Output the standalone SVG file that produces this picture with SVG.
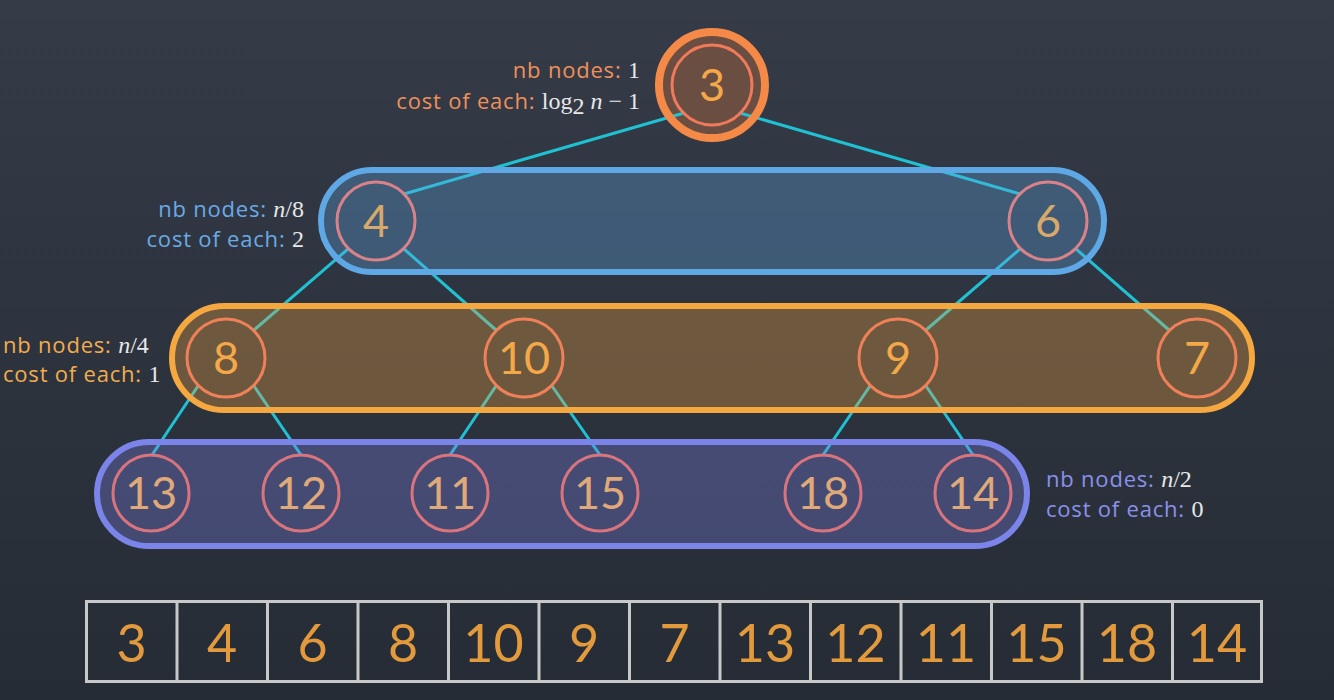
<svg xmlns="http://www.w3.org/2000/svg" width="1334" height="700" viewBox="0 0 1334 700">
<defs>
<linearGradient id="bg" x1="0" y1="0" x2="0" y2="1">
<stop offset="0" stop-color="#353b47"/>
<stop offset="1" stop-color="#262c35"/>
</linearGradient>
<style>
.edge{stroke:#1fc1d3;stroke-width:3;fill:none;stroke-linecap:round}
.band{stroke-width:6;fill-opacity:0.32}
.node{fill:none;stroke-width:3}
.num{font-family:"Lato","Noto Sans",sans-serif;font-weight:400;font-size:45px;text-anchor:middle}
.lbl{font-family:"Open Sans","Noto Sans",sans-serif;font-size:22px;letter-spacing:0.8px}
.math{font-family:"Liberation Serif","DejaVu Serif",serif;fill:#e8e8e8;font-size:24px;letter-spacing:0}
.cell{fill:none;stroke:#c8c8c8;stroke-width:3}
.anum{font-family:"Lato","Noto Sans",sans-serif;font-weight:400;font-size:52px;text-anchor:middle;fill:#e39a3d}
</style>
</defs>
<rect width="1334" height="700" fill="url(#bg)"/>

<g id="root-bg"><circle cx="712" cy="85" r="56" fill="#6b4e42"/></g>

<g id="connectors">
<line class="edge" x1="684" y1="113" x2="404" y2="194"/>
<line class="edge" x1="740" y1="113" x2="1020" y2="194"/>
<line class="edge" x1="348" y1="249" x2="254" y2="330"/>
<line class="edge" x1="404" y1="249" x2="496" y2="330"/>
<line class="edge" x1="1020" y1="249" x2="926" y2="330"/>
<line class="edge" x1="1076" y1="249" x2="1169" y2="330"/>
<line class="edge" x1="198" y1="386" x2="152" y2="455"/>
<line class="edge" x1="254" y1="386" x2="301" y2="455"/>
<line class="edge" x1="496" y1="386" x2="450" y2="455"/>
<line class="edge" x1="552" y1="386" x2="600" y2="455"/>
<line class="edge" x1="870" y1="386" x2="823" y2="455"/>
<line class="edge" x1="926" y1="386" x2="973" y2="455"/>
</g>

<g id="bands">
<rect class="band" x="321" y="170" width="783" height="102" rx="51" fill="#5fa8e6" stroke="#5fa8e6"/>
<rect class="band" x="172" y="306" width="1080" height="104" rx="52" fill="#f5a840" stroke="#f5a840"/>
<rect class="band" x="97" y="442" width="930" height="104" rx="52" fill="#7b84e8" stroke="#7b84e8"/>
</g>

<g id="n3">
<circle cx="712" cy="85" r="53" fill="none" stroke="#f58a48" stroke-width="8"/>
<circle class="node" cx="712" cy="85" r="40" stroke="#f07a5a"/>
<text class="num" x="712" y="101" fill="#f5a848">3</text>
</g>
<g id="n4"><circle class="node" cx="376" cy="221" r="39" stroke="#d9828a"/><text class="num" x="376" y="237" fill="#d8a96a">4</text></g>
<g id="n6"><circle class="node" cx="1048" cy="221" r="39" stroke="#d9828a"/><text class="num" x="1048" y="237" fill="#d8a96a">6</text></g>
<g id="n8"><circle class="node" cx="226" cy="358" r="39" stroke="#f08058"/><text class="num" x="226" y="374" fill="#f5a848">8</text></g>
<g id="n10"><circle class="node" cx="524" cy="358" r="39" stroke="#f08058"/><text class="num" x="524" y="374" fill="#f5a848">10</text></g>
<g id="n9"><circle class="node" cx="898" cy="358" r="39" stroke="#f08058"/><text class="num" x="898" y="374" fill="#f5a848">9</text></g>
<g id="n7"><circle class="node" cx="1197" cy="358" r="39" stroke="#f08058"/><text class="num" x="1197" y="374" fill="#f5a848">7</text></g>
<g id="n13"><circle class="node" cx="151" cy="493" r="38" stroke="#d9747e"/><text class="num" x="151" y="509" fill="#e0a97a">13</text></g>
<g id="n12"><circle class="node" cx="301" cy="493" r="38" stroke="#d9747e"/><text class="num" x="301" y="509" fill="#e0a97a">12</text></g>
<g id="n11"><circle class="node" cx="450" cy="493" r="38" stroke="#d9747e"/><text class="num" x="450" y="509" fill="#e0a97a">11</text></g>
<g id="n15"><circle class="node" cx="600" cy="493" r="38" stroke="#d9747e"/><text class="num" x="600" y="509" fill="#e0a97a">15</text></g>
<g id="n18"><circle class="node" cx="823" cy="493" r="38" stroke="#d9747e"/><text class="num" x="823" y="509" fill="#e0a97a">18</text></g>
<g id="n14"><circle class="node" cx="973" cy="493" r="38" stroke="#d9747e"/><text class="num" x="973" y="509" fill="#e0a97a">14</text></g>

<g id="labels">
<text class="lbl" x="640" y="78" text-anchor="end" fill="#f0905a">nb nodes: <tspan class="math">1</tspan></text>
<text class="lbl" x="640" y="109" text-anchor="end" fill="#f0905a">cost of each: <tspan class="math">log</tspan><tspan class="math" font-size="17" dy="5">2</tspan><tspan class="math" dy="-5" font-style="italic"> n</tspan><tspan class="math"> − 1</tspan></text>
<text class="lbl" x="304" y="217" text-anchor="end" fill="#6aaae6">nb nodes: <tspan class="math" font-style="italic">n</tspan><tspan class="math">/8</tspan></text>
<text class="lbl" x="304" y="247" text-anchor="end" fill="#6aaae6">cost of each: <tspan class="math">2</tspan></text>
<text class="lbl" x="3" y="353" fill="#f2ad4e">nb nodes: <tspan class="math" font-style="italic">n</tspan><tspan class="math">/4</tspan></text>
<text class="lbl" x="3" y="382" fill="#f2ad4e">cost of each: <tspan class="math">1</tspan></text>
<text class="lbl" x="1046" y="487" fill="#8a90ec">nb nodes: <tspan class="math" font-style="italic">n</tspan><tspan class="math">/2</tspan></text>
<text class="lbl" x="1046" y="517" fill="#8a90ec">cost of each: <tspan class="math">0</tspan></text>
</g>

<g id="array">
<rect class="cell" x="86.5" y="601.5" width="1175" height="80"/>
<line class="cell" x1="177" y1="601" x2="177" y2="682"/>
<line class="cell" x1="267.5" y1="601" x2="267.5" y2="682"/>
<line class="cell" x1="358" y1="601" x2="358" y2="682"/>
<line class="cell" x1="448.5" y1="601" x2="448.5" y2="682"/>
<line class="cell" x1="539" y1="601" x2="539" y2="682"/>
<line class="cell" x1="629.5" y1="601" x2="629.5" y2="682"/>
<line class="cell" x1="720" y1="601" x2="720" y2="682"/>
<line class="cell" x1="810.5" y1="601" x2="810.5" y2="682"/>
<line class="cell" x1="901" y1="601" x2="901" y2="682"/>
<line class="cell" x1="991.5" y1="601" x2="991.5" y2="682"/>
<line class="cell" x1="1082" y1="601" x2="1082" y2="682"/>
<line class="cell" x1="1172.5" y1="601" x2="1172.5" y2="682"/>
<text class="anum" x="131.5" y="662">3</text>
<text class="anum" x="222" y="662">4</text>
<text class="anum" x="312.5" y="662">6</text>
<text class="anum" x="403" y="662">8</text>
<text class="anum" x="493.5" y="662">10</text>
<text class="anum" x="584" y="662">9</text>
<text class="anum" x="674.5" y="662">7</text>
<text class="anum" x="765" y="662">13</text>
<text class="anum" x="855.5" y="662">12</text>
<text class="anum" x="946" y="662">11</text>
<text class="anum" x="1036.5" y="662">15</text>
<text class="anum" x="1127" y="662">18</text>
<text class="anum" x="1217" y="662">14</text>
</g>
</svg>
